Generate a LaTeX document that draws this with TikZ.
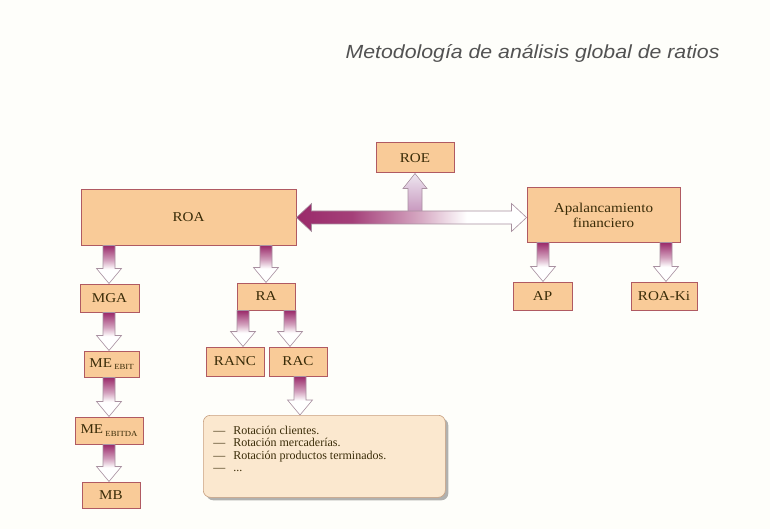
\documentclass[tikz,border=0pt]{standalone}
\usepackage{fontspec}
\setmainfont{Liberation Serif}
\newfontfamily\lblfont[FakeStretch=1.12]{Liberation Serif}
\newfontfamily\titlefont[FakeStretch=1.12]{Liberation Sans}
\usetikzlibrary{calc,shadows}
\definecolor{boxfill}{HTML}{F9CB98}
\definecolor{boxline}{HTML}{B05A62}
\definecolor{txt}{HTML}{3A2C08}
\definecolor{arrdark}{HTML}{9A2A6A}
\definecolor{arrline}{HTML}{A890A0}
\definecolor{roebot}{HTML}{C898BE}
\definecolor{roetop}{HTML}{EEE6F0}
\definecolor{notefill}{HTML}{FBE8CF}
\definecolor{noteline}{HTML}{C8A080}
\definecolor{bg}{HTML}{FEFEFA}
\pgfdeclareverticalshading{blkshade}{100bp}{color(0bp)=(white); color(25bp)=(white);
  color(44bp)=(white); color(56bp)=(arrdark!45); color(75bp)=(arrdark); color(100bp)=(arrdark)}
\pgfdeclarehorizontalshading{hshade}{100bp}{color(0bp)=(arrdark); color(25bp)=(arrdark);
  color(37bp)=(arrdark!90); color(52bp)=(arrdark!40); color(62bp)=(white); color(100bp)=(white)}
\newcommand\blkdn[3]{\shade[blk] let \p1=(#1.south), \p2=(#2.north) in
  ({#3pt-6pt},\y1) -- ({#3pt+6pt},\y1) -- ({#3pt+6pt},{\y2+15pt}) -- ({#3pt+12.5pt},{\y2+15pt})
  -- (#3pt,\y2) -- ({#3pt-12.5pt},{\y2+15pt}) -- ({#3pt-6pt},{\y2+15pt}) -- cycle;}
\begin{document}
\begin{tikzpicture}[x=1pt,y=-1pt,
  rbox/.style={draw=boxline, line width=1pt, fill=boxfill, inner sep=0pt, text=txt,
    font=\lblfont\fontsize{13.5}{15}\selectfont, align=center},
  blk/.style={shading=blkshade, draw=arrline, line width=0.6pt}]
\fill[bg] (0,0) rectangle (770,529);
\useasboundingbox (0,0) rectangle (770,529);

\node[anchor=base east, font=\titlefont\itshape\fontsize{19}{22}\selectfont, text=black!68] (title) at (723,59) {Metodología de análisis global de ratios};

\node[rbox, minimum width=215pt, minimum height=55pt] (ROA) at (188.5,217.5) {ROA};
\node[rbox, minimum width=78pt, minimum height=30pt] (ROE) at (415,158) {ROE};
\node[rbox, minimum width=153pt, minimum height=54pt] (Apal) at (603.5,215) {Apalancamiento\\financiero};
\node[rbox, minimum width=59pt, minimum height=28pt] (AP) at (542.5,296) {AP};
\node[rbox, minimum width=66pt, minimum height=28pt] (ROAKi) at (664,296) {ROA-Ki};
\node[rbox, minimum width=59pt, minimum height=28pt] (MGA) at (109.5,298) {MGA};
\node[rbox, minimum width=55pt, minimum height=26pt] (EBIT) at (111.5,364) {ME\,\raisebox{-2.5pt}{\fontsize{7.8}{8}\selectfont EBIT}};
\node[rbox, minimum width=68pt, minimum height=27pt] (EBITDA) at (109,430.5) {ME\,\raisebox{-2.5pt}{\fontsize{7.8}{8}\selectfont EBITDA}};
\node[rbox, minimum width=58pt, minimum height=26pt] (MB) at (111,495) {MB};
\node[rbox, minimum width=58pt, minimum height=27pt] (RA) at (266,296.5) {RA};
\node[rbox, minimum width=58pt, minimum height=29pt] (RANC) at (235,361.5) {RANC};
\node[rbox, minimum width=58pt, minimum height=29pt] (RAC) at (298,361.5) {RAC};

\node[draw=noteline, line width=0.6pt, fill=notefill, rounded corners=7pt,
  drop shadow={shadow xshift=3pt, shadow yshift=-3pt, fill=black!60},
  anchor=north west, inner xsep=10pt, inner ysep=11pt, text=txt,
  font=\fontsize{12}{12.2}\selectfont] (note) at (203,415)
  {\parbox[t][60pt][t]{222pt}{\makebox[20pt][l]{---}Rotación clientes.\\
   \makebox[20pt][l]{---}Rotación mercaderías.\\
   \makebox[20pt][l]{---}Rotación productos terminados.\\
   \makebox[20pt][l]{---}...}};

% ROE arrow
\shade[bottom color=roebot, top color=roetop, draw=arrline, line width=0.6pt]
  let \p1=(ROA.east), \p2=(ROE.south) in
  ({\x2-7pt},{\y1+6pt}) -- ({\x2+7pt},{\y1+6pt}) -- ({\x2+7pt},{\y2-15pt}) -- ({\x2+12pt},{\y2-15pt})
  -- (\x2,\y2) -- ({\x2-12pt},{\y2-15pt}) -- ({\x2-7pt},{\y2-15pt}) -- cycle;
% double horizontal arrow
\shade[shading=hshade, draw=arrline, line width=0.6pt]
  let \p1=(ROA.east), \p2=(Apal.west) in
  (\x1,\y1) -- ({\x1+15pt},{\y1+14pt}) -- ({\x1+15pt},{\y1+6.5pt}) -- ({\x2-15pt},{\y1+6.5pt})
  -- ({\x2-15pt},{\y1+14pt}) -- (\x2,\y1) -- ({\x2-15pt},{\y1-14pt}) -- ({\x2-15pt},{\y1-6.5pt})
  -- ({\x1+15pt},{\y1-6.5pt}) -- ({\x1+15pt},{\y1-14pt}) -- cycle;

\blkdn{ROA}{MGA}{109}
\blkdn{ROA}{RA}{266}
\blkdn{MGA}{EBIT}{109}
\blkdn{EBIT}{EBITDA}{109}
\blkdn{EBITDA}{MB}{109}
\blkdn{RA}{RANC}{243}
\blkdn{RA}{RAC}{290}
\blkdn{RAC}{note}{300}
\blkdn{Apal}{AP}{543}
\blkdn{Apal}{ROAKi}{666}
\end{tikzpicture}
\end{document}
